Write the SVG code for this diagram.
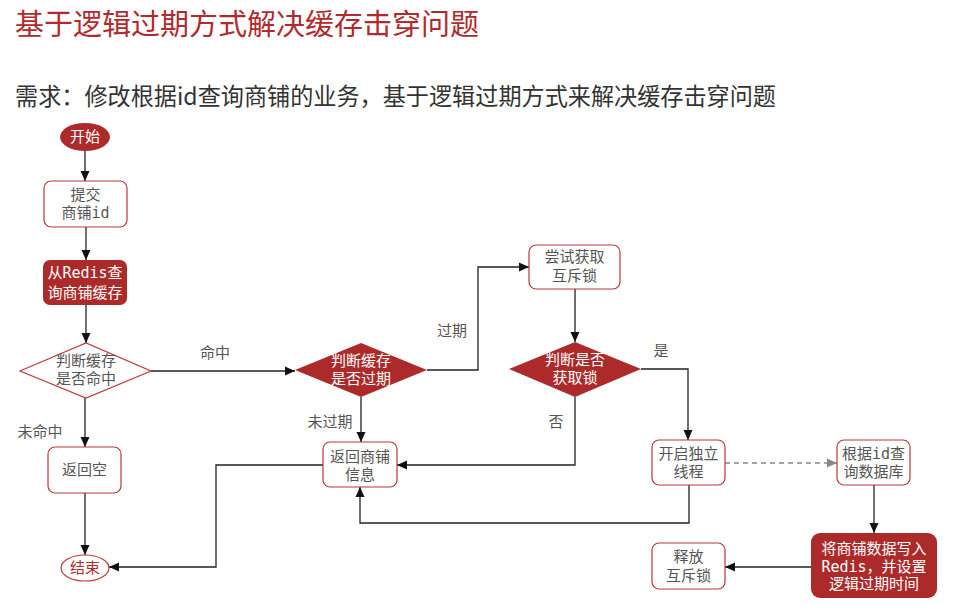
<svg xmlns="http://www.w3.org/2000/svg" width="968" height="605" viewBox="0 0 968 605">
<defs>
<marker id="a" viewBox="0 0 10 10" refX="10" refY="5" markerWidth="10" markerHeight="10" markerUnits="userSpaceOnUse" orient="auto"><path d="M0,0.5 L10,5 L0,9.5 z" fill="#111"/></marker>
<marker id="g" viewBox="0 0 10 10" refX="10" refY="5" markerWidth="10" markerHeight="10" markerUnits="userSpaceOnUse" orient="auto"><path d="M0,0.5 L10,5 L0,9.5 z" fill="#888"/></marker>
<style>
.t{font-family:"DejaVu Sans Mono","Noto Sans CJK SC",monospace;font-size:15px;fill:#555;text-anchor:middle}
.w{fill:#fff}
.r{fill:#b02a2c}
.box{fill:#fff;stroke:#b8383b;stroke-width:1.2}
.fill{fill:#ad2a2a}
.lbl{font-family:"Noto Sans CJK SC",sans-serif;font-size:15px;fill:#555;text-anchor:middle}
.c{fill:none;stroke:#222;stroke-width:1.3;marker-end:url(#a)}
.d{fill:none;stroke:#888;stroke-width:1.3;stroke-dasharray:5 4;marker-end:url(#g)}
</style>
</defs>
<rect width="968" height="605" fill="#fff"/>
<text x="15" y="35" font-family="'Noto Sans CJK SC',sans-serif" font-size="29" fill="#b12a2d">基于逻辑过期方式解决缓存击穿问题</text>
<text x="15" y="105" font-family="'Noto Sans CJK SC',sans-serif" font-size="24" fill="#333" textLength="761" lengthAdjust="spacingAndGlyphs">需求：修改根据id查询商铺的业务，基于逻辑过期方式来解决缓存击穿问题</text>

<g id="connectors">
<path class="c" d="M85 151 V181"/>
<path class="c" d="M86 227 V260"/>
<path class="c" d="M86 305 V343"/>
<path class="c" d="M85 398 V447"/>
<path class="c" d="M85 493 V555"/>
<path class="c" d="M151 371 H295"/>
<path class="c" d="M323 465 H216 V567 H109"/>
<path class="c" d="M427 370 H478 V267 H529"/>
<path class="c" d="M361 397 V442"/>
<path class="c" d="M575 289 V342"/>
<path class="c" d="M575 397 V465 H397"/>
<path class="c" d="M641 369 H688 V440"/>
<path class="c" d="M689 485 V523 H360 V487"/>
<path class="d" d="M725 463 H837"/>
<path class="c" d="M874 485 V533"/>
<path class="c" d="M811 567 H725"/>
<text class="lbl" x="215" y="358">命中</text>
<text class="lbl" x="40" y="437">未命中</text>
<text class="lbl" x="452" y="336">过期</text>
<text class="lbl" x="330" y="427">未过期</text>
<text class="lbl" x="556" y="427">否</text>
<text class="lbl" x="661" y="356">是</text>
</g>

<g id="start"><ellipse class="fill" cx="85" cy="137" rx="25" ry="14"/><text class="t w" x="85" y="142">开始</text></g>
<g id="submit"><rect class="box" x="44" y="181" width="83" height="46" rx="7"/><text class="t" x="85.5" y="200">提交</text><text class="t" x="85.5" y="218">商铺id</text></g>
<g id="query-redis"><rect class="fill" x="43" y="260" width="84" height="45" rx="7"/><text class="t w" x="85" y="278">从Redis查</text><text class="t w" x="85" y="298">询商铺缓存</text></g>
<g id="hit"><polygon points="20,371 86,343 151,371 86,398" fill="#fff" stroke="#c0393b" stroke-width="1.2"/><text class="t" x="86" y="366">判断缓存</text><text class="t" x="86" y="384">是否命中</text></g>
<g id="return-null"><rect class="box" x="48" y="447" width="73" height="46" rx="7"/><text class="t" x="84.5" y="475">返回空</text></g>
<g id="end"><ellipse cx="85" cy="568" rx="24" ry="13" fill="#fff" stroke="#c0393b" stroke-width="1.2"/><text class="t r" x="85" y="573">结束</text></g>
<g id="expired"><polygon class="fill" points="295,370 361,343 427,370 361,397"/><text class="t w" x="361" y="366">判断缓存</text><text class="t w" x="361" y="384">是否过期</text></g>
<g id="try-lock"><rect class="box" x="529" y="245" width="91" height="44" rx="7"/><text class="t" x="574.5" y="262">尝试获取</text><text class="t" x="574.5" y="281">互斥锁</text></g>
<g id="got-lock"><polygon class="fill" points="509,369 575,342 641,369 575,397"/><text class="t w" x="575" y="365">判断是否</text><text class="t w" x="575" y="383">获取锁</text></g>
<g id="return-shop"><rect class="box" x="323" y="442" width="74" height="45" rx="7"/><text class="t" x="360" y="462">返回商铺</text><text class="t" x="360" y="480">信息</text></g>
<g id="new-thread"><rect class="box" x="652" y="440" width="73" height="45" rx="7"/><text class="t" x="688.5" y="459">开启独立</text><text class="t" x="688.5" y="477">线程</text></g>
<g id="query-db"><rect class="box" x="837" y="440" width="73" height="45" rx="7"/><text class="t" x="873.5" y="459">根据id查</text><text class="t" x="873.5" y="477">询数据库</text></g>
<g id="write-redis"><rect class="fill" x="811" y="533" width="126" height="65" rx="9"/><text class="t w" x="874" y="554">将商铺数据写入</text><text class="t w" x="874" y="572">Redis，并设置</text><text class="t w" x="874" y="589">逻辑过期时间</text></g>
<g id="unlock"><rect class="box" x="652" y="543" width="73" height="46" rx="7"/><text class="t" x="688.5" y="562">释放</text><text class="t" x="688.5" y="581">互斥锁</text></g>
</svg>
